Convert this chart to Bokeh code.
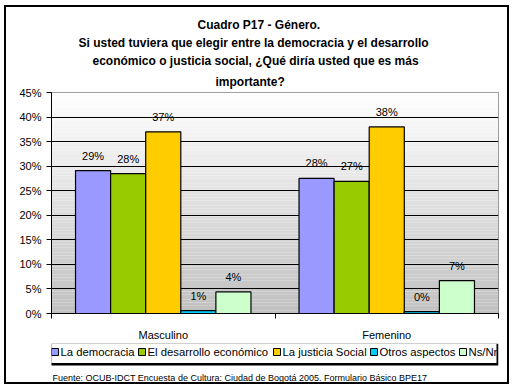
from bokeh.plotting import figure
from bokeh.layouts import column
from bokeh.models import Range1d, FixedTicker, NumeralTickFormatter, Title
from bokeh.embed import file_html
from bokeh.resources import INLINE
from bokeh.core.properties import value
import numpy as np

# ---------------- data ----------------
categories = ["Masculino", "Femenino"]
series = ["La democracia", "El desarrollo económico", "La justicia Social",
          "Otros aspectos", "Ns/Nr"]
colors = ["#9999FF", "#99CC00", "#FFCC00", "#00CCFF", "#CCFFCC"]
masculino = [0.291, 0.285, 0.370, 0.006, 0.044]
femenino = [0.275, 0.269, 0.380, 0.004, 0.067]
y_ticks = [0.0, 0.05, 0.10, 0.15, 0.20, 0.25, 0.30, 0.35, 0.40, 0.45]
title_lines = ["Cuadro P17 - Género.",
               "Si usted tuviera que elegir entre la democracia y el desarrollo",
               "económico o justicia social, ¿Qué diría usted que es más",
               "importante?"]
footer = "Fuente: OCUB-IDCT Encuesta de Cultura: Ciudad de Bogotá 2005. Formulario Básico BPE17"

# ---------------- layout ----------------
W = 501
H1, H2 = 336, 39
ML, MR, MT, MB = 45, 9, 85, 30
FONT = "Liberation Sans"

p = figure(width=W, height=H1, output_backend="svg", toolbar_location=None,
           x_range=Range1d(0, len(categories)), y_range=Range1d(0, 0.45),
           min_border_left=ML, min_border_right=MR, min_border_top=MT,
           min_border_bottom=MB, background_fill_color="white",
           border_fill_color="white")

# title: one Title per line (p.title is the outermost one)
title_offsets = [146, 27, 41, 164]
def title_props(t, off, standoff):
    return dict(text=t, align="left", offset=off, text_font=FONT,
                text_font_size="12px", text_font_style="bold",
                text_color="black", standoff=standoff)
p.title.update(**title_props(title_lines[0], title_offsets[0], 1))
p.add_layout(Title(**title_props(title_lines[3], title_offsets[3], 8)), "above")
p.add_layout(Title(**title_props(title_lines[2], title_offsets[2], 2)), "above")
p.add_layout(Title(**title_props(title_lines[1], title_offsets[1], 2)), "above")

# gradient background of the plot area
n = 80
edges = np.linspace(0, 0.45, n + 1)
mids = (edges[:-1] + edges[1:]) / 2
grad = []
for m in mids:
    g = int(round(192 + (255 - 192) * (m / 0.45)))
    grad.append("#%02x%02x%02x" % (g, g, g))
p.quad(left=0, right=len(categories), bottom=edges[:-1], top=edges[1:],
       fill_color=grad, line_color=None, level="image")

# bars
BW = 0.157
for i, s in enumerate(series):
    xs = [c + 0.5 + (i - 2) * BW for c in range(len(categories))]
    tops = [masculino[i], femenino[i]]
    p.vbar(x=xs, top=tops, bottom=0, width=BW, fill_color=colors[i],
           line_color="black", line_width=1.2)
    labels = ["%d%%" % int(v * 100 + 0.5) for v in tops]
    p.text(x=xs, y=tops, text=labels, text_align="center",
           text_baseline="middle", y_offset=-15,
           text_font=value(FONT), text_font_size="11px", text_color="black")

# axes
p.xaxis.ticker = FixedTicker(ticks=[c + 0.5 for c in range(len(categories))],
                             minor_ticks=list(range(len(categories) + 1)))
p.xaxis.major_label_overrides = {c + 0.5: categories[c] for c in range(len(categories))}
p.xaxis.major_tick_out = 0
p.xaxis.major_tick_in = 0
p.xaxis.minor_tick_out = 5
p.xaxis.minor_tick_in = 0
p.xaxis.minor_tick_line_color = "black"
p.xaxis.major_label_standoff = 10
p.xaxis.major_label_text_font = FONT
p.xaxis.major_label_text_font_size = "11px"
p.xaxis.major_label_text_color = "black"
p.xaxis.axis_line_color = "black"

p.yaxis.ticker = FixedTicker(ticks=y_ticks)
p.yaxis.formatter = NumeralTickFormatter(format="0%")
p.yaxis.major_tick_out = 5
p.yaxis.major_tick_in = 0
p.yaxis.minor_tick_line_color = None
p.yaxis.major_label_standoff = 5
p.yaxis.major_label_text_font = FONT
p.yaxis.major_label_text_font_size = "11px"
p.yaxis.major_label_text_color = "black"
p.yaxis.axis_line_color = "black"
p.yaxis.major_tick_line_color = "black"

p.xgrid.visible = False
p.ygrid.ticker = FixedTicker(ticks=y_ticks[1:-1])
p.ygrid.grid_line_color = "black"
p.ygrid.grid_line_width = 1
p.outline_line_color = "#808080"
p.outline_line_width = 1

# ---------------- legend + footer strip (pixel coordinates) ----------------
# same side borders as the chart, so the column keeps both frames aligned;
# x values are canvas pixels, y values are pixels from the strip's top
q = figure(width=W, height=H2, output_backend="svg", toolbar_location=None,
           x_range=Range1d(ML, W - MR), y_range=Range1d(H2, 0),
           x_axis_type=None, y_axis_type=None,
           min_border_left=ML, min_border_right=MR, min_border_top=0,
           min_border_bottom=0,
           background_fill_color="white", border_fill_color="white",
           outline_line_color=None)
q.xgrid.visible = False
q.ygrid.visible = False

# legend box with its shadow
q.quad(left=43, right=492, top=0, bottom=22, fill_color="black", line_color=None)
q.quad(left=41, right=490, top=0, bottom=19.5, fill_color="white", line_color=None)

# legend entries: swatch + label
sq_x = [45, 132, 267, 364, 453]
lab_x = [54, 141, 276, 373, 462]
q.quad(left=sq_x, right=[x + 7 for x in sq_x], top=5, bottom=12,
       fill_color=colors, line_color="black", line_width=1)
q.text(x=lab_x, y=[8.5] * len(series), text=series, text_align="left",
       text_baseline="middle", text_font=value(FONT),
       text_font_size="11.3px", text_color="black")

# footer
q.text(x=[46], y=[34], text=[footer], text_align="left", text_baseline="middle",
       text_font=value(FONT), text_font_size="9px", text_color="black")

layout = column(p, q, spacing=0,
                styles={"border": "2px solid black", "box-sizing": "content-box",
                        "margin-left": "4px", "margin-top": "5px"})

open("out.html", "w").write(file_html(layout, INLINE))
